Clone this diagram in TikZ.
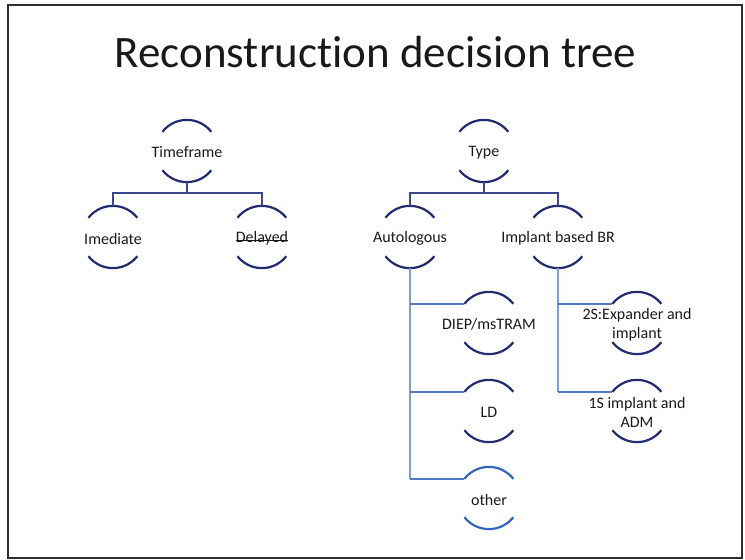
\documentclass[tikz,border=0pt]{standalone}
\usepackage{fontspec}
\setmainfont{Carlito}[Ligatures=NoCommon]
\definecolor{navy}{RGB}{33,43,112}
\definecolor{barc}{RGB}{58,72,138}
\definecolor{subv}{RGB}{125,160,212}
\definecolor{subh}{RGB}{82,122,196}
\definecolor{othc}{RGB}{52,102,192}
\definecolor{txtc}{RGB}{25,25,25}
\definecolor{framec}{RGB}{45,45,45}
\tikzset{
  ring/.style={circle, minimum size=62pt, inner sep=0pt, draw=none},
  txt/.style={font=\fontsize{16}{19}\selectfont, text=txtc, align=center, yshift=-1.5pt},
  arcc/.style={draw=navy, line width=2.2pt},
  topbar/.style={draw=barc, line width=2.4pt},
  subline/.style={draw=subh, line width=2pt},
}
\begin{document}
\begin{tikzpicture}[x=1pt,y=-1pt]
\useasboundingbox (0,0) rectangle (745,560);
\draw[framec, line width=2.6pt] (8,5) rectangle (742,558);
\node[font=\fontsize{45}{50}\selectfont, text=txtc, anchor=base] (title) at (375.5,67) {Reconstruction decision tree};

\node[ring, label={[txt]center:Timeframe}] (tf) at (187,151) {};
\node[ring, label={[txt]center:Imediate}] (im) at (113,237) {};
\node[ring, label={[txt,inner sep=0pt,name=delt]center:Delayed}] (de) at (262,237) {};
\node[ring, label={[txt]center:Type}] (ty) at (484,151) {};
\node[ring, label={[txt]center:Autologous}] (au) at (410,237) {};
\node[ring, label={[txt]center:Implant based BR}] (ib) at (558,237) {};
\node[ring, label={[txt]center:DIEP/msTRAM}] (dp) at (489,323) {};
\node[ring, label={[txt]center:LD}] (ld) at (489,411) {};
\node[ring, label={[txt]center:other}] (ot) at (489,498) {};
\node[ring, label={[txt]center:{2S:Expander and\\implant}}] (ex) at (637,323) {};
\node[ring, label={[txt]center:{1S implant and\\ADM}}] (os) at (637,411) {};
\draw[txtc, line width=0.9pt] (delt.mid west) -- (delt.mid east);

\foreach \n in {tf,im,de,ty,au,ib,dp,ld,ex,os} {
  \draw[arcc] (\n.142) arc[start angle=142, end angle=38, radius=31pt];
  \draw[arcc] (\n.218) arc[start angle=218, end angle=322, radius=31pt];
}
\draw[arcc, draw=othc] (ot.142) arc[start angle=142, end angle=38, radius=31pt];
\draw[arcc, draw=othc] (ot.218) arc[start angle=218, end angle=322, radius=31pt];

% top-level connectors
\draw[topbar] (tf.south) -- ++(0,11) -| (im.north);
\draw[topbar] (tf.south) -- ++(0,11) -| (de.north);
\draw[topbar] (ty.south) -- ++(0,11) -| (au.north);
\draw[topbar] (ty.south) -- ++(0,11) -| (ib.north);

% sub-branches
\draw[subline, draw=subv] (au.south) -- (au.south |- ot.142);
\draw[subline] (au.south |- dp.142) -- (dp.142);
\draw[subline] (au.south |- ld.142) -- (ld.142);
\draw[subline] (au.south |- ot.142) -- (ot.142);
\draw[subline, draw=subv] (ib.south) -- (ib.south |- os.142);
\draw[subline] (ib.south |- ex.142) -- (ex.142);
\draw[subline] (ib.south |- os.142) -- (os.142);
\end{tikzpicture}
\end{document}
